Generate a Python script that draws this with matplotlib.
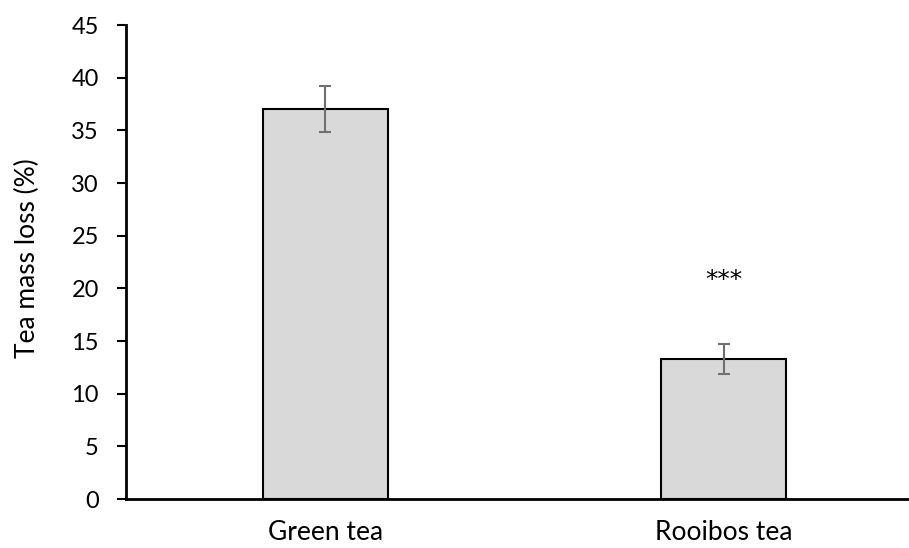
import matplotlib.pyplot as plt

plt.rcParams['font.family'] = ['Lato', 'DejaVu Sans']

# Data
categories = ['Green tea', 'Rooibos tea']
mass_loss = [37.0, 13.3]
errors = [2.2, 1.4]
signif = ['', '***']
signif_y = [None, 20.1]

W, H = 909, 548
fig = plt.figure(figsize=(W / 100, H / 100), dpi=100)
ax = fig.add_axes([126 / W, 1 - 499 / H, (923 - 126) / W, (499 - 25) / H])

x = range(len(categories))
ax.bar(x, mass_loss, width=0.314, color='#d9d9d9', edgecolor='black', linewidth=1.5)
ax.errorbar(x, mass_loss, yerr=errors, fmt='none', ecolor='#707070',
            elinewidth=1.5, capsize=4, capthick=1.5)

# significance stars
for i, s in enumerate(signif):
    if s:
        ax.text(i, signif_y[i], s, ha='center', va='baseline', fontsize=18,
                family='DejaVu Sans')

ax.set_xlim(-0.5, 1.5)
ax.set_ylim(0, 45)
ax.set_yticks(range(0, 46, 5))
ax.set_xticks(list(x))
ax.set_xticklabels(categories)
ax.tick_params(axis='x', length=0, pad=15, labelsize=19)
ax.tick_params(axis='y', length=6.5, width=1.5, pad=13, labelsize=17)
ax.set_ylabel('Tea mass loss (%)', fontsize=19)
ax.yaxis.set_label_coords(40 / W, (548 - 258) / H, transform=fig.transFigure)

for side in ['top', 'right']:
    ax.spines[side].set_visible(False)
for side in ['left', 'bottom']:
    ax.spines[side].set_linewidth(2)

fig.savefig('out.png', dpi=100)
